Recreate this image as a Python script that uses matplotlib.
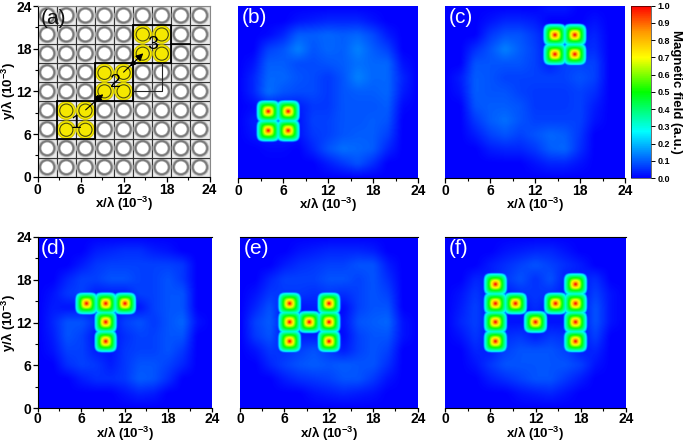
import numpy as np
import matplotlib
matplotlib.use("Agg")
import matplotlib.pyplot as plt
from matplotlib.colors import LinearSegmentedColormap
from matplotlib.patches import Circle, Rectangle

plt.rcParams["font.family"] = ["Liberation Sans", "DejaVu Sans"]
plt.rcParams["mathtext.fontset"] = "custom"
plt.rcParams["mathtext.bf"] = "Liberation Sans:bold"
plt.rcParams["mathtext.rm"] = "Liberation Sans:bold"

W, H = 685, 443

# ---------- dados ----------
grid_x = [0, 2, 4, 6, 8, 10, 12, 14, 16, 18, 20, 22, 24]
grid_y = [24, 22, 20, 18, 16, 14, 12, 10, 8, 6, 4, 2, 0]

# fundo de cada painel, em centesimos (linhas de y=24 ate y=0)
field_b = [
    [0, 0, 0, 0, 0, 0, 0, 0, 0, 0, 0, 0, 0],
    [0, 0, 0, 0, 2, 3, 4, 4, 4, 2, 0, 0, 0],
    [0, 0, 1, 4, 10, 10, 11, 10, 11, 8, 3, 0, 0],
    [0, 0, 7, 9, 14, 9, 11, 10, 14, 10, 7, 0, 0],
    [0, 2, 10, 10, 8, 8, 9, 10, 12, 11, 11, 2, 0],
    [0, 4, 11, 11, 9, 8, 6, 9, 14, 11, 11, 4, 0],
    [0, 4, 12, 9, 8, 8, 6, 9, 10, 10, 11, 3, 0],
    [0, 1, 3, 3, 3, 6, 6, 9, 9, 9, 10, 1, 0],
    [0, 3, 3, 3, 2, 7, 7, 9, 9, 10, 9, 0, 0],
    [0, 2, 3, 3, 2, 6, 7, 9, 10, 10, 7, 0, 0],
    [0, 0, 1, 1, 0, 4, 9, 12, 11, 10, 4, 0, 0],
    [0, 0, 0, 0, 0, 0, 3, 6, 9, 5, 0, 0, 0],
    [0, 0, 0, 0, 0, 0, 0, 0, 0, 0, 0, 0, 0],
]
field_c = [
    [0, 0, 0, 0, 0, 0, 0, 3, 3, 0, 0, 0, 0],
    [0, 0, 0, 2, 4, 4, 3, 0, 0, 0, 2, 0, 0],
    [0, 0, 0, 6, 9, 9, 6, 2, 2, 2, 4, 0, 0],
    [0, 0, 5, 9, 14, 10, 7, 2, 2, 4, 5, 0, 0],
    [0, 0, 9, 9, 9, 9, 7, 3, 7, 7, 7, 0, 0],
    [0, 3, 10, 9, 7, 7, 7, 7, 7, 9, 7, 0, 0],
    [0, 2, 10, 9, 9, 7, 6, 6, 6, 7, 5, 0, 0],
    [0, 0, 9, 10, 10, 9, 6, 6, 6, 7, 3, 0, 0],
    [0, 0, 6, 10, 12, 9, 7, 7, 7, 7, 2, 0, 0],
    [0, 0, 3, 7, 9, 7, 9, 11, 10, 6, 0, 0, 0],
    [0, 0, 0, 3, 4, 4, 6, 10, 11, 5, 0, 0, 0],
    [0, 0, 0, 0, 0, 0, 2, 4, 4, 2, 0, 0, 0],
    [0, 0, 0, 0, 0, 0, 0, 0, 0, 0, 0, 0, 0],
]
field_d = [
    [0, 0, 0, 0, 0, 0, 0, 0, 0, 0, 0, 0, 0],
    [0, 0, 0, 0, 3, 4, 5, 5, 3, 2, 0, 0, 0],
    [0, 0, 0, 3, 6, 7, 7, 7, 7, 7, 6, 0, 0],
    [0, 0, 4, 7, 7, 9, 9, 7, 7, 9, 6, 0, 0],
    [0, 2, 6, 7, 3, 3, 3, 7, 7, 9, 9, 0, 0],
    [0, 3, 2, 2, 2, 2, 2, 2, 7, 9, 9, 0, 0],
    [0, 4, 9, 9, 5, 2, 7, 9, 6, 9, 11, 2, 0],
    [0, 3, 9, 7, 2, 2, 5, 7, 7, 9, 9, 0, 0],
    [0, 2, 7, 7, 3, 2, 6, 7, 7, 9, 6, 0, 0],
    [0, 0, 5, 7, 6, 3, 6, 9, 9, 7, 4, 0, 0],
    [0, 0, 0, 3, 5, 5, 6, 10, 9, 5, 0, 0, 0],
    [0, 0, 0, 0, 0, 0, 2, 4, 3, 0, 0, 0, 0],
    [0, 0, 0, 0, 0, 0, 0, 0, 0, 0, 0, 0, 0],
]
field_e = [
    [0, 0, 0, 0, 0, 0, 0, 0, 0, 0, 0, 0, 0],
    [0, 0, 0, 0, 2, 3, 4, 4, 4, 3, 0, 0, 0],
    [0, 0, 0, 3, 5, 6, 7, 7, 9, 9, 3, 0, 0],
    [0, 0, 4, 7, 7, 7, 9, 9, 7, 9, 5, 0, 0],
    [0, 2, 6, 6, 6, 5, 6, 5, 7, 9, 7, 0, 0],
    [0, 4, 9, 2, 2, 3, 2, 1, 7, 9, 9, 0, 0],
    [0, 7, 10, 2, 2, 2, 2, 2, 9, 10, 11, 2, 0],
    [0, 6, 9, 2, 3, 3, 2, 1, 7, 9, 9, 2, 0],
    [0, 2, 6, 5, 7, 9, 6, 3, 7, 9, 7, 0, 0],
    [0, 0, 4, 7, 9, 10, 9, 10, 9, 9, 5, 0, 0],
    [0, 0, 0, 3, 5, 6, 7, 9, 9, 6, 2, 0, 0],
    [0, 0, 0, 0, 0, 2, 3, 4, 3, 2, 0, 0, 0],
    [0, 0, 0, 0, 0, 0, 0, 0, 0, 0, 0, 0, 0],
]
field_f = [
    [0, 0, 0, 0, 0, 0, 0, 0, 0, 0, 0, 0, 0],
    [0, 0, 0, 0, 2, 3, 4, 4, 2, 0, 0, 0, 0],
    [0, 0, 0, 3, 5, 7, 9, 7, 5, 3, 0, 0, 0],
    [0, 0, 4, 3, 6, 9, 5, 9, 3, 3, 5, 0, 0],
    [0, 2, 6, 2, 3, 5, 6, 5, 3, 2, 7, 2, 0],
    [0, 3, 7, 2, 2, 2, 5, 2, 2, 2, 9, 2, 0],
    [0, 4, 7, 2, 2, 2, 2, 2, 2, 2, 9, 2, 0],
    [0, 2, 6, 2, 5, 6, 3, 6, 5, 2, 7, 0, 0],
    [0, 0, 4, 3, 7, 9, 9, 9, 7, 3, 4, 0, 0],
    [0, 0, 2, 6, 9, 9, 9, 9, 9, 7, 2, 0, 0],
    [0, 0, 0, 3, 5, 7, 9, 9, 6, 3, 0, 0, 0],
    [0, 0, 0, 0, 0, 2, 3, 4, 2, 0, 0, 0, 0],
    [0, 0, 0, 0, 0, 0, 0, 0, 0, 0, 0, 0, 0],
]

# posicoes dos focos
spots_b = [(4, 6.6), (6.67, 6.6), (4, 9.3), (6.67, 9.3)]
spots_c = [(14.67, 17.3), (17.33, 17.3), (14.67, 20), (17.33, 20)]
spots_d = [(6.67, 14.6), (9.33, 14.6), (12, 14.6), (9.33, 12), (9.33, 9.3)]
spots_e = [(6.67, 14.6), (12, 14.6), (6.67, 12), (9.33, 12), (12, 12),
           (6.67, 9.3), (12, 9.3)]
spots_f = [(6.67, 17.3), (6.67, 14.6), (6.67, 12), (6.67, 9.3),
           (17.33, 17.3), (17.33, 14.6), (17.33, 12), (17.33, 9.3),
           (9.33, 14.6), (14.67, 14.6), (12, 12)]
spots_a = spots_b + [(9.33, 12), (12, 12), (9.33, 14.6), (12, 14.6)] + spots_c

# perfil radial de um foco
prof_r = [0, 0.12, 0.3, 0.55, 0.85, 1.15, 1.4, 1.55, 1.65]
prof_v = [1.0, 0.95, 0.82, 0.68, 0.52, 0.38, 0.27, 0.14, 0.0]

cbar_ticks = [0.0, 0.1, 0.2, 0.3, 0.4, 0.5, 0.6, 0.7, 0.8, 0.9, 1.0]
ticks = [0, 6, 12, 18, 24]
minor = [3, 9, 15, 21]

cmap = LinearSegmentedColormap.from_list("field", [
    (0.0, "#0000ff"), (0.27, "#00ffff"), (0.5, "#00ff00"),
    (0.7, "#ffff00"), (0.85, "#ff9900"), (1.0, "#ff0000")])


def box(l, t, r, b):
    return [l / W, 1 - b / H, (r - l) / W, (b - t) / H]


def make_field(rows, spots):
    xs = np.linspace(0, 24, 241)
    rows = np.array(rows, float)[::-1] / 100
    ys = np.array(grid_y[::-1])
    z = np.array([np.interp(xs, grid_x, row) for row in rows])
    z = np.array([np.interp(xs, ys, col) for col in z.T]).T
    k = np.bartlett(13)
    k /= k.sum()
    z = np.array([np.convolve(row, k, mode="same") for row in z])
    z = np.array([np.convolve(col, k, mode="same") for col in z.T]).T
    X, Y = np.meshgrid(xs, xs)
    for sx, sy in spots:
        dx, dy = np.abs(X - sx), np.abs(Y - sy)
        r2 = np.hypot(dx, dy)
        r4 = (dx ** 4 + dy ** 4) ** 0.25
        w = np.clip(r2 / 1.4, 0, 1)
        z = np.maximum(z, np.interp(r2 * (1 - w) + r4 * w, prof_r, prof_v))
    return z


def style(a, ylab, low):
    a.set_xlim(0, 24)
    a.set_ylim(0, 24)
    a.set_xticks(ticks)
    a.set_xticks(minor, minor=True)
    a.set_xlabel(r"x/λ (10$^{-3}$)", fontsize=9.5, fontweight="bold", va="center")
    a.xaxis.set_label_coords(0.5, low)
    a.tick_params(which="major", length=3.5, width=0.9, pad=1, labelsize=10)
    a.tick_params(which="minor", length=2, width=0.8)
    for lab in a.get_xticklabels():
        lab.set_fontweight("bold")
    if ylab:
        a.set_yticks(ticks)
        a.set_yticks(minor, minor=True)
        a.set_ylabel(r"y/λ (10$^{-3}$)", fontsize=9.5, fontweight="bold", va="center")
        a.yaxis.set_label_coords(-0.165, 0.5)
        for lab in a.get_yticklabels():
            lab.set_fontweight("bold")
    else:
        a.set_yticks([])
        a.spines["left"].set_visible(False)
        a.spines["right"].set_visible(False)


def heat(pos, rows, spots, label, ylab=False, top=True):
    a = fig.add_axes(box(*pos))
    im = a.imshow(make_field(rows, spots), origin="lower", extent=[0, 24, 0, 24],
                  cmap=cmap, vmin=0, vmax=1, interpolation="bilinear", aspect="auto")
    style(a, ylab, -0.152 if top else -0.16)
    if top:
        a.tick_params(axis="x", which="major", length=3, pad=0)
    a.spines["right"].set_visible(False)
    a.spines["top"].set_visible(top)
    a.text(0.02, 0.985, label, transform=a.transAxes, color="white", fontsize=15,
           va="top", ha="left", fontweight="normal")
    return im


fig = plt.figure(figsize=(W / 100, H / 100), dpi=100)

# ---------- painel (a): malha de celulas ----------
ax = fig.add_axes(box(37.7, 6, 209.5, 176.7))
cell = 24 / 9
for i in range(9):
    for j in range(9):
        cx, cy = (i + 0.5) * cell, (j + 0.5) * cell
        ax.add_patch(Rectangle((i * cell, j * cell), cell, cell, fc="#ececec",
                               ec="#333333", lw=0.8))
        for rad, tone in [(1.3, "#cccccc"), (1.2, "#a0a0a0"), (1.1, "#757575"),
                          (1.0, "#7c7c7c"), (0.9, "#aaaaaa"), (0.8, "white")]:
            ax.add_patch(Circle((cx, cy), rad, fc=tone, ec="none"))
for sx, sy in spots_a:
    ax.add_patch(Circle((sx, sy), 1.25, fc="#f7ec00", ec="#d0c400", lw=0.7))
    ax.add_patch(Circle((sx, sy), 0.92, fc="#f5e800", ec="#4a4a10", lw=0.8))
for x0, y0 in [(2.67, 5.33), (8, 10.67), (13.33, 16)]:
    ax.add_patch(Rectangle((x0, y0), 5.33, 5.33, fc="none", ec="black", lw=1.3))
ax.plot([13.33, 17.4, 17.4], [12, 12, 16], color="#222222", lw=0.8)
ax.plot([18.67, 21.33], [18.67, 18.67], color="black", lw=1.2)
for s, x, y in [("1", 5.4, 7.5), ("2", 10.8, 13.3), ("3", 16.1, 18.6)]:
    ax.text(x, y, s, fontsize=14, ha="center", va="center", color="black", zorder=10)
for tail, tip, ms in [((6.7, 9.4), (9.15, 11.6), 11), ((9.0, 11.4), (7.9, 10.4), 11),
                      ((12.0, 14.7), (14.75, 17.35), 11), ((13.6, 16.2), (12.9, 15.5), 8)]:
    ax.annotate("", xy=tip, xytext=tail,
                arrowprops=dict(arrowstyle="-|>", color="black", lw=0.8, mutation_scale=ms,
                                shrinkA=0, shrinkB=0))
style(ax, True, -0.16)
ax.spines["top"].set_color("#888888")
ax.spines["right"].set_color("#888888")
ax.text(0.02, 0.985, "(a)", transform=ax.transAxes, color="#111111", fontsize=15,
        va="top", ha="left", zorder=10)

# ---------- paineis de campo ----------
heat((238.3, 5.7, 418.3, 177.7), field_b, spots_b, "(b)", top=False)
im = heat((445.3, 5.7, 625, 177.7), field_c, spots_c, "(c)", top=False)
heat((37.7, 236.7, 211.7, 408.3), field_d, spots_d, "(d)", ylab=True)
heat((240, 236.7, 417.7, 408.3), field_e, spots_e, "(e)")
heat((445.3, 236.7, 625.7, 408.3), field_f, spots_f, "(f)")

# ---------- barra de cores ----------
cax = fig.add_axes(box(630.7, 5.7, 651, 178))
cb = fig.colorbar(im, cax=cax)
cb.set_ticks(cbar_ticks)
cb.set_ticklabels([f"{t:.1f}" for t in cbar_ticks], fontweight="bold", fontsize=6.5)
cb.ax.tick_params(length=3, width=0.7, pad=1.5)
cb.outline.set_linewidth(0.4)
fig.text(676 / W, 1 - 92 / H, "Magnetic field (a.u.)", rotation=-90, fontsize=9.5,
         fontweight="bold", ha="center", va="center")

fig.savefig("out.png", dpi=100)
